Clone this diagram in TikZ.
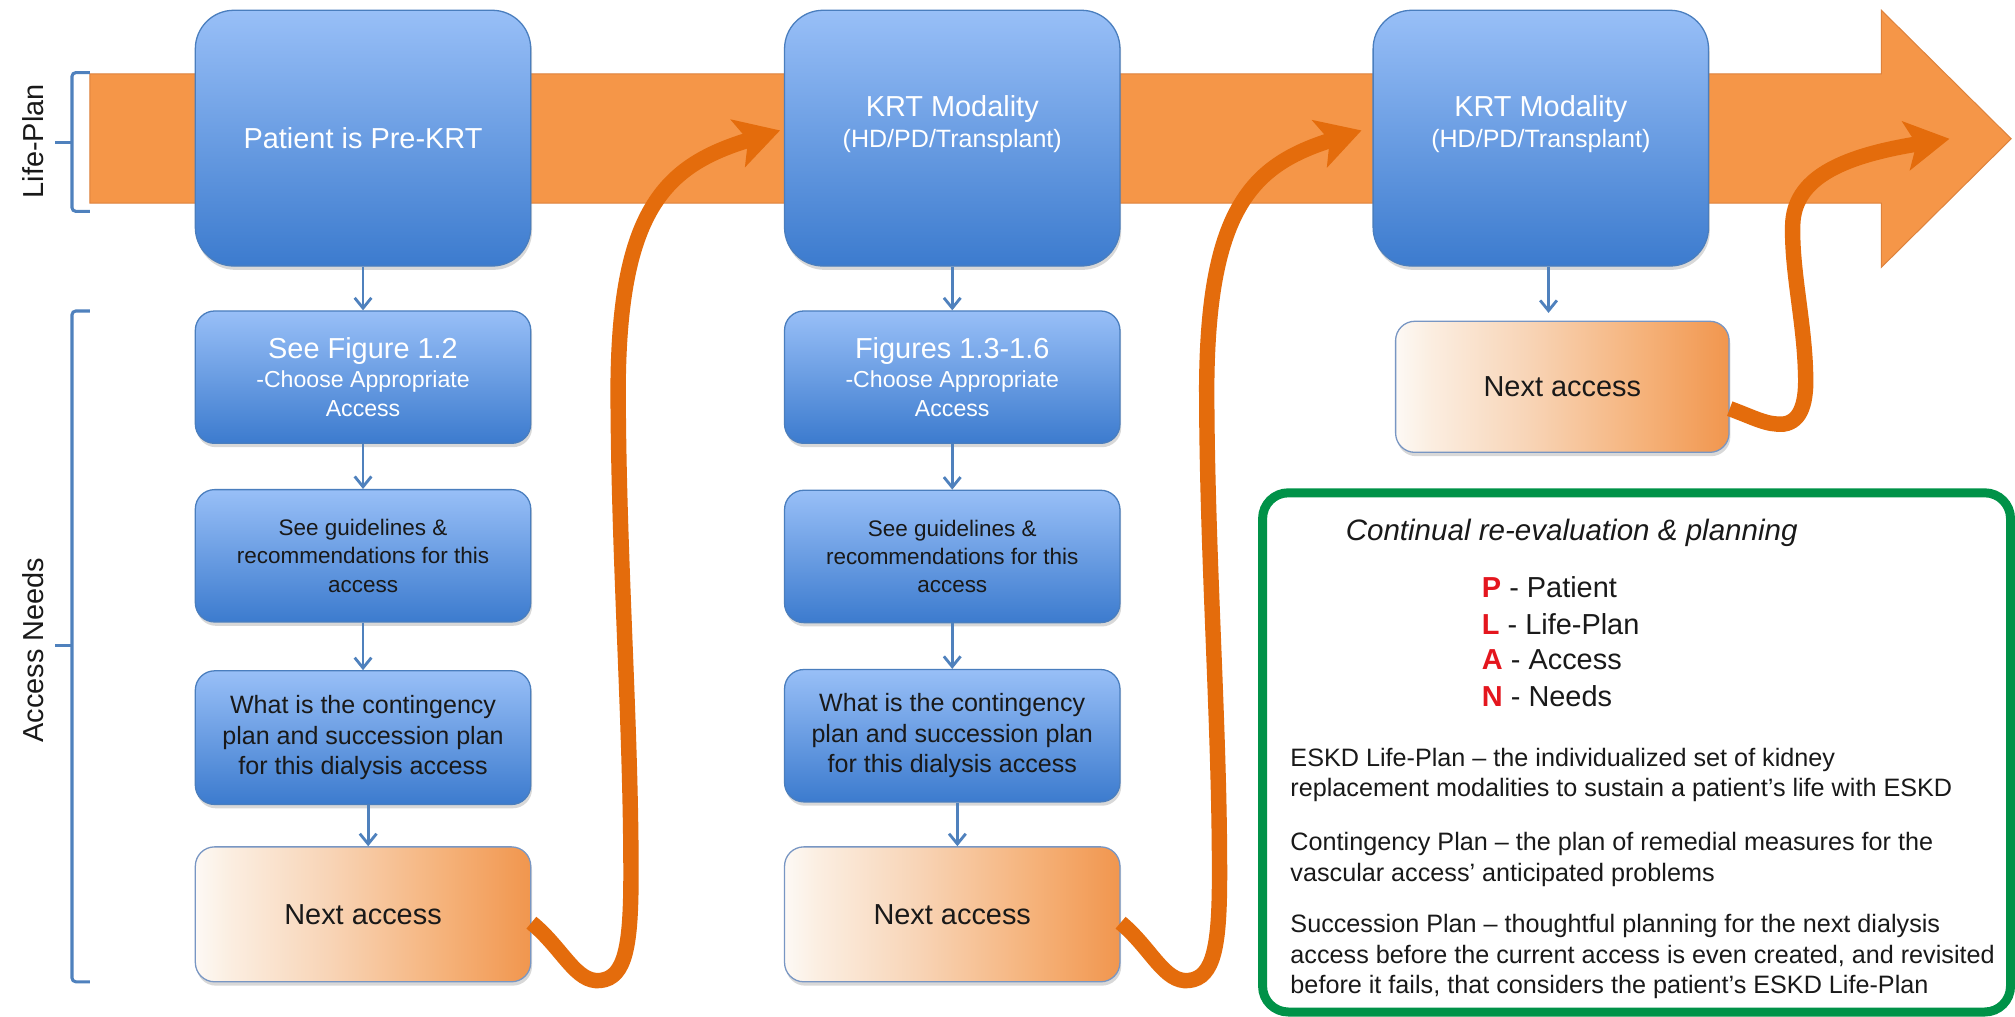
\documentclass[tikz,border=0pt]{standalone}
\usepackage{fontspec}
\setmainfont{Liberation Sans}
\usetikzlibrary{arrows.meta,shadows}

\definecolor{bandorange}{RGB}{245,150,72}
\definecolor{bandedge}{RGB}{222,130,60}
\definecolor{flowarrow}{RGB}{228,108,12}
\definecolor{boxtop}{RGB}{152,191,247}
\definecolor{boxbottom}{RGB}{60,123,206}
\definecolor{boxedge}{RGB}{74,126,190}
\definecolor{linkblue}{RGB}{79,129,189}
\definecolor{nextedge}{RGB}{120,150,195}
\definecolor{legendgreen}{RGB}{0,146,72}
\definecolor{planred}{RGB}{228,22,30}
\definecolor{inktext}{RGB}{25,25,25}
\definecolor{nxA}{RGB}{253,249,245}
\definecolor{nxB}{RGB}{251,238,225}
\definecolor{nxC}{RGB}{248,212,182}
\definecolor{nxD}{RGB}{245,178,122}
\definecolor{nxE}{RGB}{241,150,78}

% left-to-right fade of the "Next access" boxes
\pgfdeclarehorizontalshading{nextaccess}{100bp}{color(0bp)=(nxA); color(25bp)=(nxA); color(30bp)=(nxB); color(45bp)=(nxC); color(62bp)=(nxD); color(75bp)=(nxE); color(100bp)=(nxE)}

\begin{document}
\begin{tikzpicture}[x=1pt,y=-1pt,
  boxshadow/.style={drop shadow={opacity=0.3,shadow xshift=1pt,shadow yshift=-3pt}},
  bigbox/.style={draw=boxedge, line width=1pt, rounded corners=30pt,
    top color=boxtop, bottom color=boxbottom, minimum width=261pt,
    minimum height=199pt, inner sep=0pt, boxshadow, text=white, align=center},
  smallbox/.style={draw=boxedge, line width=1pt, rounded corners=15pt,
    top color=boxtop, bottom color=boxbottom, minimum width=261pt,
    minimum height=103pt, inner sep=0pt, boxshadow, align=center},
  nextbox/.style={draw=nextedge, line width=1pt, rounded corners=15pt,
    shading=nextaccess, minimum width=261pt, minimum height=105pt,
    inner sep=0pt, boxshadow, text=inktext,
    font=\fontsize{22.5}{27}\selectfont},
  figtext/.style={text=white, font=\fontsize{18}{22.5}\selectfont},
  asktext/.style={text=inktext},
  modtext/.style={text=white, inner sep=0pt, align=center,
    font=\fontsize{19.5}{24.5}\selectfont},
  link/.style={draw=linkblue, line width=2.2pt,
    -{Straight Barb[length=8pt,width=13pt,line width=2.2pt]}},
  flow/.style={draw=flowarrow, line width=12pt,
    -{Stealth[length=34pt,width=38pt,inset=8pt]}},
  bracket/.style={draw=linkblue, line width=2.4pt, rounded corners=3pt},
  sidelabel/.style={text=inktext, inner sep=0pt, rotate=90,
    font=\fontsize{22.5}{27}\selectfont},
  legendbox/.style={draw=legendgreen, line width=7pt, rounded corners=20pt,
    fill=white, inner sep=0pt},
  legendtitle/.style={text=inktext, inner sep=0pt, anchor=west,
    font=\fontsize{23}{27}\selectfont\itshape, text height=16.6pt, text depth=4.8pt},
  planline/.style={text=inktext, inner sep=0pt, anchor=west,
    font=\fontsize{22.5}{27}\selectfont, text height=16.2pt, text depth=4.7pt},
  body/.style={text=inktext, inner sep=0pt, anchor=west,
    font=\fontsize{19.6}{23.5}\selectfont, text height=14.1pt, text depth=4.1pt}
]
\fill[white] (0,0) rectangle (1568,791);
\useasboundingbox (0,0) rectangle (1568,791);

% the Life-Plan band with its arrow head
\filldraw[fill=bandorange, draw=bandedge, line width=0.8pt]
  (70,57.5) -- (1464,57.5) -- (1464,8) -- (1565,108) -- (1464,208)
  -- (1464,158) -- (70,158) -- cycle;

% brackets and their captions
\draw[bracket] (70,56.5) -- (56,56.5) -- (56,164.5) -- (70,164.5);
\draw[bracket] (56,111) -- (43,111);
\draw[bracket] (70,242) -- (56,242) -- (56,764) -- (70,764);
\draw[bracket] (56,502) -- (43,502);
\node[sidelabel] (lifeplan) at (26,110) {Life-Plan};
\node[sidelabel] (accessneeds) at (26,506) {Access Needs};

% first column
\node[bigbox, font=\fontsize{22.5}{27}\selectfont] (A1) at (282.5,107.5) {Patient is Pre-KRT};
\node[smallbox, figtext] (B1) at (282.5,293.5)
  {{\fontsize{22.5}{22.5}\selectfont See Figure 1.2}\\ -Choose Appropriate\\ Access};
\node[smallbox, asktext, font=\fontsize{17.5}{22}\selectfont] (C1) at (282.5,432.5)
  {See guidelines \&\\ recommendations for this\\ access};
\node[smallbox, asktext, minimum height=104pt, font=\fontsize{19.5}{23.5}\selectfont] (D1) at (282.5,574)
  {What is the contingency\\ plan and succession plan\\ for this dialysis access};
\node[nextbox] (E1) at (282.5,711.5) {Next access};

% second column
\node[bigbox] (A2) at (741,107.5) {};
\node[modtext] (A2t) at ([yshift=11pt]A2.center)
  {{\fontsize{22.5}{24.5}\selectfont KRT Modality}\\ (HD/PD/Transplant)};
\node[smallbox, figtext] (B2) at (741,293.5)
  {{\fontsize{22.5}{22.5}\selectfont Figures 1.3-1.6}\\ -Choose Appropriate\\ Access};
\node[smallbox, asktext, font=\fontsize{17.5}{22}\selectfont] (C2) at (741,433)
  {See guidelines \&\\ recommendations for this\\ access};
\node[smallbox, asktext, font=\fontsize{19.5}{23.5}\selectfont] (D2) at (741,572.5)
  {What is the contingency\\ plan and succession plan\\ for this dialysis access};
\node[nextbox] (E2) at (741,711.5) {Next access};

% third column
\node[bigbox] (A3) at (1199,107.5) {};
\node[modtext] (A3t) at ([yshift=11pt]A3.center)
  {{\fontsize{22.5}{24.5}\selectfont KRT Modality}\\ (HD/PD/Transplant)};
\node[nextbox, minimum width=259.5pt, minimum height=102pt] (E3) at (1215.75,301) {Next access};

% steps within each column
\draw[link] (A1) -- (B1);
\draw[link] (B1) -- (C1);
\draw[link] (C1) -- (D1);
\draw[link] ([xshift=4pt]D1.south) -- ([xshift=4pt]E1.north);
\draw[link] (A2) -- (B2);
\draw[link] (B2) -- (C2);
\draw[link] (C2) -- (D2);
\draw[link] ([xshift=4pt]D2.south) -- ([xshift=4pt]E2.north);
\draw[link, shorten >=6pt] ([xshift=6pt]A3.south) -- ([xshift=-10.75pt]E3.north);

% each next access leads on to the next modality
\coordinate (bandend) at (1517,108);
\draw[flow] ([yshift=-6.5pt]E1.east)
  .. controls (438,738) and (448,765) .. (467,763)
  .. controls (487,761) and (491,735) .. (491,680)
  .. controls (491,560) and (481,430) .. (481,300)
  .. controls (482,160) and (520,128) .. ([xshift=-3pt,yshift=6pt]A2.west);
\draw[flow] ([yshift=-6.5pt]E2.east)
  .. controls (896,738) and (906,765) .. (925,763)
  .. controls (945,761) and (949,735) .. (949,680)
  .. controls (949,560) and (939,430) .. (939,300)
  .. controls (940,160) and (976,128) .. ([xshift=-8.5pt,yshift=6pt]A3.west);
\draw[flow] ([yshift=-17pt]E3.east)
  .. controls (1365,325) and (1375,331) .. (1388,330)
  .. controls (1402,328) and (1406,312) .. (1405,290)
  .. controls (1404,250) and (1394,210) .. (1395,175)
  .. controls (1396,140) and (1430,122) .. (bandend);

% PLAN legend
\node[legendbox, minimum width=582pt, minimum height=404pt] (legend) at (1273.5,585.5) {};
\node[legendtitle] (ltitle) at (1047,415) {Continual re-evaluation \& planning};
\node[planline] (pP) at (1153,459.5) {\textcolor{planred}{\bfseries P} - Patient};
\node[planline] (pL) at (1153,488) {\textcolor{planred}{\bfseries L} - Life-Plan};
\node[planline] (pA) at (1153,515.5) {\textcolor{planred}{\bfseries A} - Access};
\node[planline] (pN) at (1153,543.8) {\textcolor{planred}{\bfseries N} - Needs};
\node[body] (d1) at (1004,591.3) {ESKD Life-Plan – the individualized set of kidney};
\node[body] (d2) at (1004,614.6) {replacement modalities to sustain a patient’s life with ESKD};
\node[body] (d3) at (1004,656.8) {Contingency Plan – the plan of remedial measures for the};
\node[body] (d4) at (1004,680.6) {vascular access’ anticipated problems};
\node[body] (d5) at (1004,720.6) {Succession Plan – thoughtful planning for the next dialysis};
\node[body] (d6) at (1004,744.6) {access before the current access is even created, and revisited};
\node[body] (d7) at (1004,768.2) {before it fails, that considers the patient’s ESKD Life-Plan};
\end{tikzpicture}
\end{document}
